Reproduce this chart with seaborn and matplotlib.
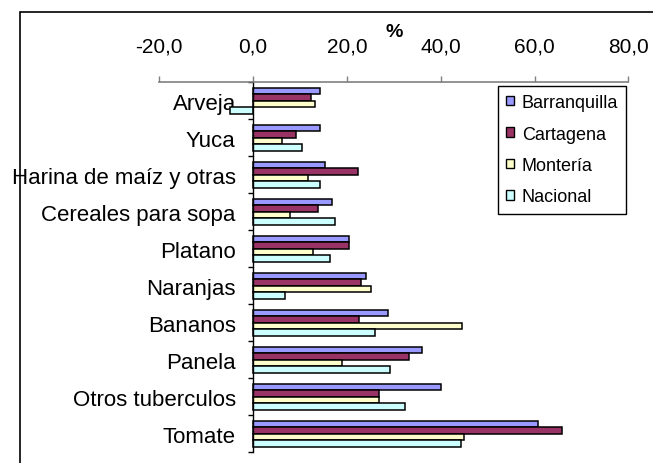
import numpy as np
import pandas as pd
import matplotlib
matplotlib.use("Agg")
import matplotlib.pyplot as plt
from matplotlib.patches import Rectangle
import seaborn as sns

categories = ["Arveja", "Yuca", "Harina de maíz y otras", "Cereales para sopa",
              "Platano", "Naranjas", "Bananos", "Panela", "Otros tuberculos", "Tomate"]
cities = ["Barranquilla", "Cartagena", "Montería", "Nacional"]
barranquilla = [14.2, 14.2, 15.4, 16.8, 20.4, 24.0, 28.8, 36.1, 40.1, 60.7]
cartagena = [12.4, 9.1, 22.3, 13.8, 20.4, 22.9, 22.6, 33.2, 26.9, 65.9]
monteria = [13.1, 6.1, 11.7, 7.9, 12.8, 25.1, 44.5, 19.0, 26.9, 45.0]
nacional = [-4.9, 10.5, 14.2, 17.5, 16.4, 6.8, 25.9, 29.1, 32.4, 44.3]
xticks = [-20, 0, 20, 40, 60, 80]
xtick_labels = ["-20,0", "0,0", "20,0", "40,0", "60,0", "80,0"]
colors = ["#9999FF", "#993366", "#FFFFCC", "#CCFFFF"]

rows = []
for city, vals in zip(cities, [barranquilla, cartagena, monteria, nacional]):
    for cat, v in zip(categories, vals):
        rows.append({"Producto": cat, "Ciudad": city, "Valor": v})
df = pd.DataFrame(rows)

sns.set_theme(style="white")
plt.rcParams["font.family"] = ["Liberation Sans", "DejaVu Sans"]
plt.rcParams["text.color"] = "black"
plt.rcParams["xtick.labelcolor"] = "black"
plt.rcParams["ytick.labelcolor"] = "black"
plt.rcParams["axes.labelcolor"] = "black"

fig = plt.figure(figsize=(6.53, 4.64), dpi=100)
ax = fig.add_axes([159.3 / 653, 1 - 453.3 / 464, 469.0 / 653, 370.0 / 464])

sns.barplot(data=df, y="Producto", x="Valor", hue="Ciudad", orient="h",
            order=categories, hue_order=cities, palette=colors, width=0.7,
            edgecolor="black", linewidth=1.1, saturation=1, ax=ax)

ax.set_xlim(-20, 80)
ax.set_ylim(9.5, -0.5)

# x axis on top
ax.xaxis.tick_top()
ax.xaxis.set_label_position("top")
ax.set_xticks(xticks)
ax.set_xticklabels(xtick_labels)
ax.tick_params(axis="x", which="major", direction="out", length=4.5, width=1,
               color="#808080", pad=14.5, labelsize=15, labelcolor="black",
               top=True, bottom=False)
ax.set_xlabel("%", fontsize=14, fontweight="bold", labelpad=1, color="black")

# y axis at x=0
ax.spines["left"].set_position(("data", 0))
ax.spines["left"].set_color("black")
ax.spines["left"].set_linewidth(1.0)
ax.spines["top"].set_color("#808080")
ax.spines["top"].set_linewidth(1.2)
ax.spines["right"].set_visible(False)
ax.spines["bottom"].set_visible(False)

ax.set_yticks(np.arange(-0.5, 10.0, 1.0))
ax.set_yticklabels([""] * 11)
ax.set_yticks(np.arange(len(categories)), minor=True)
ax.set_yticklabels(categories, minor=True)
ax.tick_params(axis="y", which="major", direction="out", length=3.6, width=1,
               color="black", left=True)
ax.tick_params(axis="y", which="minor", length=0, pad=12.5, labelsize=16,
               labelcolor="black", left=True)
ax.set_ylabel("")

# legend
handles, labels = ax.get_legend_handles_labels()
leg = ax.legend(handles, labels, loc="upper left",
                bbox_to_anchor=(498 / 653, 1 - 87 / 464), bbox_transform=fig.transFigure,
                borderaxespad=0, fontsize=13, frameon=True, fancybox=False,
                shadow=False, framealpha=1, edgecolor="black",
                handlelength=0.42, handleheight=0.42, handletextpad=0.45,
                labelspacing=0.8, borderpad=0.45)
leg.get_frame().set_linewidth(1.0)
for t in leg.get_texts():
    t.set_color("black")
for h in leg.legend_handles:
    h.set_edgecolor("black")
    h.set_linewidth(1.0)

# outer chart frame
fig.add_artist(Rectangle((20 / 653, -0.1), 1.2, (464 - 13) / 464 + 0.1,
                         transform=fig.transFigure, fill=False,
                         edgecolor="black", linewidth=1.2, clip_on=False))

fig.savefig("out.png", dpi=100)
